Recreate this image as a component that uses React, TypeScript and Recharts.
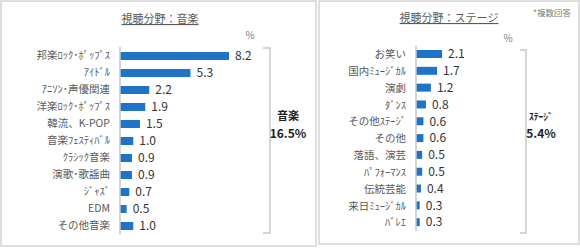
import React from 'react';
import { BarChart, Bar, XAxis, YAxis, LabelList } from 'recharts';

const musicCategories = ['邦楽ﾛｯｸ･ﾎﾟｯﾌﾟｽ', 'ｱｲﾄﾞﾙ', 'ｱﾆｿﾝ･声優関連', '洋楽ﾛｯｸ･ﾎﾟｯﾌﾟｽ', '韓流、K-POP', '音楽ﾌｪｽﾃｨﾊﾞﾙ', 'ｸﾗｼｯｸ音楽', '演歌･歌謡曲', 'ｼﾞｬｽﾞ', 'EDM', 'その他音楽'];
const musicValues = [8.2, 5.3, 2.2, 1.9, 1.5, 1.0, 0.9, 0.9, 0.7, 0.5, 1.0];
const musicTitle = '視聴分野：音楽';
const musicGroupLabel = '音楽';
const musicTotal = '16.5%';

const stageCategories = ['お笑い', '国内ﾐｭｰｼﾞｶﾙ', '演劇', 'ﾀﾞﾝｽ', 'その他ｽﾃｰｼﾞ', 'その他', '落語、演芸', 'ﾊﾟﾌｫｰﾏﾝｽ', '伝統芸能', '来日ﾐｭｰｼﾞｶﾙ', 'ﾊﾞﾚｴ'];
const stageValues = [2.1, 1.7, 1.2, 0.8, 0.6, 0.6, 0.5, 0.5, 0.4, 0.3, 0.3];
const stageTitle = '視聴分野：ステージ';
const stageGroupLabel = 'ｽﾃｰｼﾞ';
const stageTotal = '5.4%';

const unitLabel = '%';
const noteLabel = '*複数回答';

const FONT = '"Noto Sans CJK JP", "Noto Sans", sans-serif';
const BAR = '#1f74c8';
const AXIS = '#c8c8c8';

const musicData = musicCategories.map((name, i) => ({ name, value: musicValues[i] }));
const stageData = stageCategories.map((name, i) => ({ name, value: stageValues[i] }));

const fmt = (v: any) => Number(v).toFixed(1);

function Panel(props: {
  data: { name: string; value: number }[];
  width: number;
  yWidth: number;
  margin: { top: number; right: number; bottom: number; left: number };
}) {
  return (
    <BarChart
      layout="vertical"
      width={props.width}
      height={248}
      data={props.data}
      margin={props.margin}
      barCategoryGap={0}
    >
      <XAxis type="number" domain={[0, 10]} hide />
      <YAxis
        type="category"
        dataKey="name"
        width={props.yWidth}
        axisLine={{ stroke: AXIS, strokeWidth: 1.5 }}
        tickLine={false}
        tickMargin={4}
        interval={0}
        tick={{ fontSize: 10.5, fill: '#595959', fontFamily: FONT }}
      />
      <Bar dataKey="value" fill={BAR} barSize={8} isAnimationActive={false}>
        <LabelList
          dataKey="value"
          position="right"
          offset={6}
          formatter={fmt}
          style={{ fontSize: 12, fill: '#333333', fontFamily: FONT }}
        />
      </Bar>
    </BarChart>
  );
}

export default function App() {
  return (
    <div
      style={{
        position: 'absolute',
        left: 0,
        top: 0,
        width: 580,
        height: 248,
        background: '#ffffff',
        fontFamily: FONT,
        overflow: 'hidden',
      }}
    >
      <div style={{ position: 'absolute', left: 0, top: 0 }}>
        <Panel data={musicData} width={300} yWidth={120} margin={{ top: 47, right: 47, bottom: 14, left: 0 }} />
      </div>
      <div style={{ position: 'absolute', left: 319, top: 0 }}>
        <Panel data={stageData} width={261} yWidth={97} margin={{ top: 46, right: 40, bottom: 17, left: 0 }} />
      </div>
      <svg
        width={580}
        height={248}
        style={{ position: 'absolute', left: 0, top: 0, pointerEvents: 'none' }}
        fontFamily={FONT}
      >
        <rect x={1} y={1} width={315} height={245} fill="none" stroke="#d4d4d4" strokeWidth={1.5} />
        <rect x={319} y={1} width={260} height={243} fill="none" stroke="#d4d4d4" strokeWidth={1.5} />
        <text x={160} y={18} textAnchor="middle" dominantBaseline="central" fontSize={11} fill="#595959" textDecoration="underline">
          {musicTitle}
        </text>
        <text x={449} y={17} textAnchor="middle" dominantBaseline="central" fontSize={11} fill="#595959" textDecoration="underline">
          {stageTitle}
        </text>
        <text x={571} y={12} textAnchor="end" dominantBaseline="central" fontSize={8.5} fill="#808080">
          {noteLabel}
        </text>
        <text x={250} y={34} textAnchor="middle" dominantBaseline="central" fontSize={10} fill="#808080">
          {unitLabel}
        </text>
        <text x={508} y={37} textAnchor="middle" dominantBaseline="central" fontSize={10} fill="#808080">
          {unitLabel}
        </text>
        <polyline points="263,48 270,48 270,233 263,233" fill="none" stroke="#c8c8c8" strokeWidth={1.5} />
        <polyline points="520,50 526,50 526,233 520,233" fill="none" stroke="#c8c8c8" strokeWidth={1.5} />
        <text x={288} y={115} textAnchor="middle" dominantBaseline="central" fontSize={11} fontWeight="bold" fill="#222222">
          {musicGroupLabel}
        </text>
        <text x={288} y={132} textAnchor="middle" dominantBaseline="central" fontSize={12} fontWeight="bold" fill="#222222">
          {musicTotal}
        </text>
        <text x={541} y={116} textAnchor="middle" dominantBaseline="central" fontSize={9.5} fontWeight="bold" fill="#222222">
          {stageGroupLabel}
        </text>
        <text x={541} y={132} textAnchor="middle" dominantBaseline="central" fontSize={12} fontWeight="bold" fill="#222222">
          {stageTotal}
        </text>
      </svg>
    </div>
  );
}
